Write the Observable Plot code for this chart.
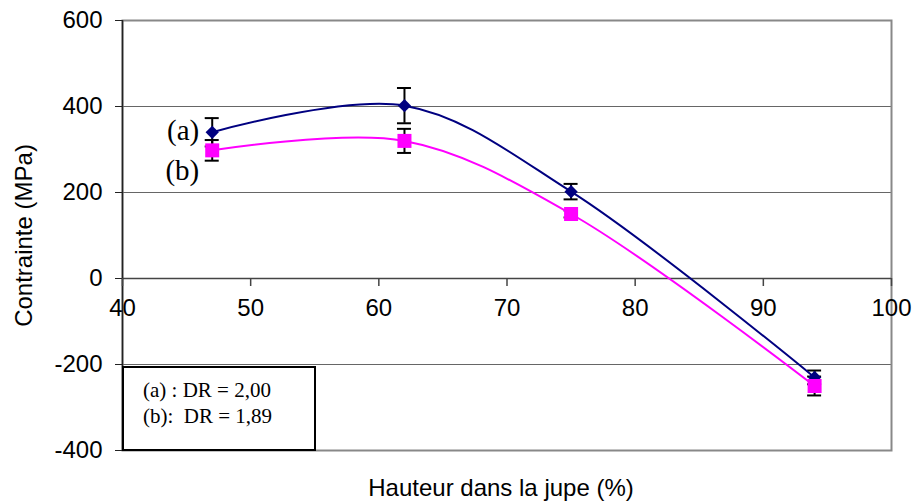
<!DOCTYPE html>
<html>
<head>
<meta charset="utf-8">
<script src="https://cdn.jsdelivr.net/npm/d3@7"></script>
<script src="https://cdn.jsdelivr.net/npm/@observablehq/plot@0.6"></script>
<style>
  html, body { margin: 0; padding: 0; background: #fff; }
  #chart { position: relative; width: 916px; height: 504px; }
  #legend {
    position: absolute; left: 122px; top: 366px; width: 194px; height: 85px;
    box-sizing: border-box; border: 2px solid #000; background: #fff;
    font-family: "Liberation Serif", "Times New Roman", serif; font-size: 21px;
    line-height: 26px; padding: 9px 0 0 19px; white-space: pre; color: #000;
  }
</style>
</head>
<body>
<div id="chart"><div id="legend">(a) : DR = 2,00
(b):  DR = 1,89</div></div>
<script>
// ---- data ----
const hauteur = [47, 62, 75, 94];                 // Hauteur dans la jupe (%)
const contrainteA = [340, 402, 202, -230];         // (a) DR = 2,00
const erreurA = [33, 41, 18, 16];
const contrainteB = [298, 320, 150, -250];         // (b) DR = 1,89
const erreurB = [24, 28, 8, 22];
const seriesLabels = ["(a)", "(b)"];
const xTicks = [40, 50, 60, 70, 80, 90, 100];
const yTicks = [-400, -200, 0, 200, 400, 600];
const gridY = [-200, 200, 400];
const xTitle = "Hauteur dans la jupe (%)";
const yTitle = "Contrainte (MPa)";

const rowsA = hauteur.map((h, i) => ({serie: "a", x: h, y: contrainteA[i], e: erreurA[i]}));
const rowsB = hauteur.map((h, i) => ({serie: "b", x: h, y: contrainteB[i], e: erreurB[i]}));
const rows = rowsA.concat(rowsB);

const sans = "'Liberation Sans', Arial, sans-serif";
const serif = "'Liberation Serif', 'Times New Roman', serif";

const chart = Plot.plot({
  width: 916, height: 504,
  marginLeft: 122, marginRight: 25, marginTop: 20, marginBottom: 54,
  x: {domain: [40, 100], axis: null},
  y: {domain: [-400, 600], axis: null},
  style: {fontFamily: sans, fontSize: "24px", color: "#000", background: "#fff"},
  marks: [
    Plot.ruleY(gridY, {stroke: "#666", strokeWidth: 1}),
    Plot.frame({stroke: "#888", strokeWidth: 2}),
    Plot.ruleY([0], {stroke: "#444", strokeWidth: 1.5}),
    Plot.ruleX([40], {stroke: "#222", strokeWidth: 1.5}),
    Plot.axisY(yTicks, {anchor: "left", tickSize: 7, tickPadding: 13, label: null, tickFormat: d => String(d), fontSize: 24, stroke: "#222"}),
    Plot.ruleX(xTicks, {x: d => d, y1: 0, y2: 0, insetBottom: -8, stroke: "#444", strokeWidth: 1.5}),
    Plot.text(xTicks, {x: d => d, y: 0, text: d => String(d), dy: 30, lineAnchor: "middle", fontSize: 24, fill: "#000"}),
    Plot.text([yTitle], {frameAnchor: "left", rotate: -90, textAnchor: "middle", lineAnchor: "middle", dx: -98, fontSize: 24, fill: "#000"}),
    Plot.text([xTitle], {frameAnchor: "bottom", textAnchor: "middle", lineAnchor: "middle", dx: -6, dy: 38, fontSize: 24, fill: "#000"}),
    // error bars
    Plot.ruleX(rows, {x: "x", y1: d => d.y - d.e, y2: d => d.y + d.e, stroke: "#000", strokeWidth: 2}),
    Plot.ruleY(rows, {y: d => d.y + d.e, x1: "x", x2: "x", insetLeft: -7, insetRight: -7, stroke: "#000", strokeWidth: 2}),
    Plot.ruleY(rows, {y: d => d.y - d.e, x1: "x", x2: "x", insetLeft: -7, insetRight: -7, stroke: "#000", strokeWidth: 2}),
    // smoothed lines
    Plot.line(rowsA, {x: "x", y: "y", stroke: "#000080", strokeWidth: 2, curve: "catmull-rom"}),
    Plot.line(rowsB, {x: "x", y: "y", stroke: "#ff00ff", strokeWidth: 2, curve: "catmull-rom"}),
    // markers
    Plot.dot(rowsA, {x: "x", y: "y", symbol: "diamond2", r: 6, fill: "#000080", stroke: "none"}),
    Plot.dot(rowsB, {x: "x", y: "y", symbol: "square", r: 7.9, fill: "#ff00ff", stroke: "none"}),
    // series labels next to first points
    Plot.text([rowsA[0]], {x: "x", y: "y", text: () => seriesLabels[0], textAnchor: "end", lineAnchor: "middle", dx: -13, dy: -2, fontFamily: serif, fontSize: 29, fill: "#000"}),
    Plot.text([rowsB[0]], {x: "x", y: "y", text: () => seriesLabels[1], textAnchor: "end", lineAnchor: "middle", dx: -13, dy: 20, fontFamily: serif, fontSize: 29, fill: "#000"})
  ]
});
document.getElementById("chart").prepend(chart);
</script>
</body>
</html>
